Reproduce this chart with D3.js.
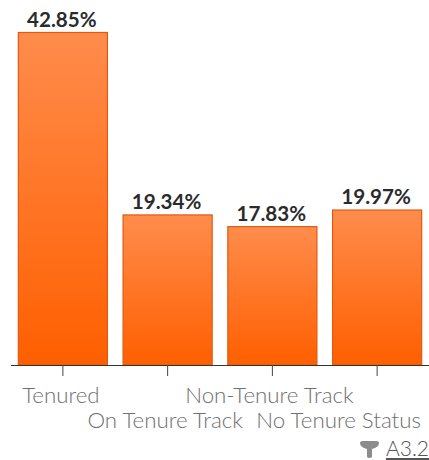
<!DOCTYPE html>
<html><head><meta charset="utf-8">
<script src="https://d3js.org/d3.v7.min.js"></script>
<style>html,body{margin:0;padding:0;background:#fff}svg{display:block}text{font-family:Lato,sans-serif}</style>
</head><body><svg id="c" width="429" height="460"></svg>
<script>
const categories=["Tenured","On Tenure Track","Non-Tenure Track","No Tenure Status"];
const values=[42.85,19.34,17.83,19.97];
const labelRows=[0,1,0,1];
const labelShift=[-2,-2.500,-3,-38.500];
const sourceLabel="A3.2";
const svg=d3.select("#c");
const x=d3.scaleBand().domain(categories).range([10.5,429.5]).paddingInner(0.14).paddingOuter(0.07);
const y=d3.scaleLinear().domain([0,42.85]).range([365,32.5]);
const defs=svg.append("defs");
const gb=defs.append("linearGradient").attr("id","bar2").attr("x1",0).attr("x2",0).attr("y1",0).attr("y2",1);
gb.append("stop").attr("offset",0).attr("stop-color","#ff8c4c");
gb.append("stop").attr("offset",1).attr("stop-color","#ff5f00");
svg.selectAll("rect.bar").data(values).join("rect").attr("class","bar")
 .attr("x",(d,i)=>x(categories[i])+.5).attr("width",x.bandwidth()-1)
 .attr("y",d=>y(d)).attr("height",d=>y(0)-y(d))
 .attr("fill","url(#bar2)").attr("stroke","#e05a10").attr("stroke-width",1.2);
svg.selectAll("text.val").data(values).join("text").attr("class","val")
 .attr("x",(d,i)=>x(categories[i])+x.bandwidth()/2-1).attr("y",d=>y(d)-6)
 .attr("text-anchor","middle").attr("font-size",20.6).attr("font-weight",700).attr("fill","#2b2b2b")
 .text(d=>d.toFixed(2)+"%");
const axis=d3.axisBottom(x).tickSize(11).tickSizeOuter(0).tickFormat("");
const ag=svg.append("g").attr("transform","translate(0,365)").call(axis);
ag.select(".domain").attr("stroke","#333").attr("stroke-width",1.2);
ag.selectAll(".tick line").attr("stroke","#444");
svg.selectAll("text.cat").data(categories).join("text").attr("class","cat")
 .attr("x",(d,i)=>x(d)+x.bandwidth()/2+labelShift[i]).attr("y",(d,i)=>403+labelRows[i]*25)
 .attr("text-anchor","middle").attr("font-size",22.3).attr("font-weight",300).attr("fill","#707070").text(d=>d);
const f=svg.append("g").attr("fill","#8c8c8c");
f.append("path").attr("d","M360 443 Q360 441 363 441 H376 Q379 441 379 443 Q379 447 372 449 V457 Q369.500 459 367 457 V449 Q360 447 360 443Z");
svg.append("text").attr("x",429).attr("y",456).attr("text-anchor","end").attr("font-size",21).attr("font-weight",300).attr("fill","#555").attr("text-decoration","underline").text(sourceLabel);
</script></body></html>
